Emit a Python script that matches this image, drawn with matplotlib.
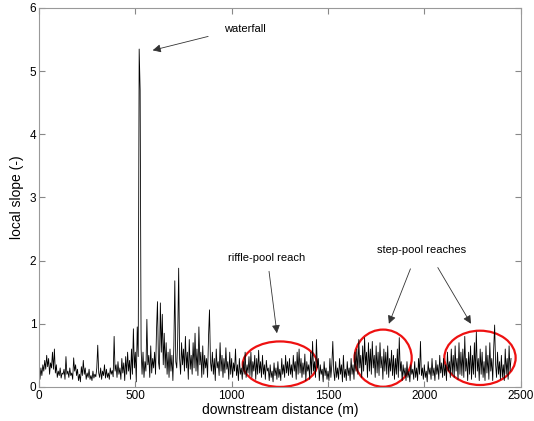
import numpy as np
import matplotlib
matplotlib.use("Agg")
import matplotlib.pyplot as plt
from matplotlib.patches import Ellipse

plt.rcParams['font.family'] = ['Liberation Sans', 'DejaVu Sans']

# distance step of 5 m, 0 .. 2450 m
distance = np.arange(0, 2455, 5)
local_slope = [
    0.22,0.12,0.30,0.18,0.35,0.25,0.42,0.28,0.50,0.32,
    0.45,0.20,0.38,0.30,0.55,0.28,0.60,0.22,0.35,0.15,
    0.25,0.18,0.30,0.14,0.22,0.20,0.28,0.12,0.48,0.20,
    0.25,0.15,0.30,0.18,0.22,0.12,0.46,0.25,0.35,0.18,
    0.28,0.10,0.20,0.08,0.32,0.18,0.42,0.20,0.30,0.12,
    0.22,0.15,0.28,0.12,0.18,0.10,0.25,0.14,0.20,0.16,
    0.30,0.66,0.22,0.15,0.30,0.12,0.25,0.18,0.35,0.14,
    0.28,0.15,0.22,0.12,0.30,0.20,0.26,0.16,0.80,0.25,
    0.35,0.15,0.40,0.20,0.30,0.12,0.45,0.22,0.38,0.10,
    0.48,0.20,0.55,0.25,0.42,0.12,0.60,0.20,0.92,0.30,
    0.55,0.08,0.95,0.48,5.35,4.70,0.60,0.20,0.55,0.15,
    0.40,0.25,1.07,0.35,0.50,0.15,0.65,0.22,0.45,0.30,
    0.55,0.20,0.90,1.35,0.40,0.28,1.33,0.55,1.15,0.35,
    0.85,0.30,0.70,0.20,0.55,0.15,0.60,0.25,0.50,0.10,
    0.65,1.68,0.40,0.30,0.75,1.88,0.45,0.20,0.70,0.35,
    0.60,0.25,0.80,0.30,0.55,0.12,0.75,0.28,0.50,0.20,
    0.70,0.30,0.85,0.25,0.60,0.18,0.95,0.35,0.55,0.15,
    0.65,0.20,0.50,0.30,0.45,0.15,0.80,1.22,0.40,0.25,
    0.55,0.20,0.45,0.10,0.60,0.30,0.40,0.18,0.70,0.25,
    0.50,0.15,0.45,0.22,0.62,0.28,0.40,0.12,0.55,0.20,
    0.45,0.15,0.38,0.25,0.60,0.18,0.35,0.10,0.45,0.20,
    0.30,0.12,0.40,0.20,0.55,0.15,0.35,0.22,0.48,0.18,
    0.55,0.15,0.40,0.25,0.50,0.12,0.45,0.20,0.58,0.22,
    0.40,0.15,0.50,0.20,0.35,0.12,0.42,0.25,0.30,0.10,
    0.35,0.15,0.25,0.08,0.38,0.18,0.30,0.12,0.40,0.15,
    0.28,0.10,0.45,0.20,0.35,0.15,0.50,0.22,0.40,0.18,
    0.45,0.20,0.35,0.15,0.50,0.25,0.40,0.12,0.55,0.20,
    0.60,0.22,0.45,0.15,0.38,0.20,0.52,0.10,0.40,0.25,
    0.35,0.12,0.55,0.20,0.72,0.25,0.40,0.15,0.75,0.30,
    0.45,0.10,0.35,0.20,0.28,0.08,0.40,0.18,0.30,0.12,
    0.25,0.10,0.45,0.15,0.35,0.72,0.25,0.10,0.40,0.15,
    0.30,0.12,0.45,0.20,0.35,0.08,0.50,0.15,0.28,0.10,
    0.40,0.18,0.30,0.10,0.45,0.20,0.35,0.12,0.55,0.25,
    0.60,0.20,0.75,0.30,0.50,0.15,0.65,0.25,0.78,0.35,
    0.55,0.15,0.70,0.25,0.60,0.20,0.72,0.30,0.50,0.15,
    0.65,0.22,0.55,0.18,0.70,0.30,0.48,0.12,0.60,0.25,
    0.55,0.20,0.65,0.15,0.45,0.25,0.58,0.18,0.50,0.12,
    0.45,0.20,0.60,0.15,0.78,0.25,0.40,0.10,0.35,0.18,
    0.30,0.10,0.40,0.15,0.25,0.08,0.35,0.20,0.28,0.12,
    0.40,0.15,0.30,0.10,0.45,0.20,0.72,0.18,0.30,0.12,
    0.35,0.15,0.25,0.08,0.40,0.20,0.30,0.12,0.45,0.18,
    0.30,0.10,0.42,0.20,0.35,0.12,0.50,0.22,0.38,0.15,
    0.45,0.18,0.35,0.10,0.55,0.25,0.40,0.15,0.60,0.20,
    0.50,0.15,0.65,0.25,0.45,0.12,0.70,0.20,0.55,0.18,
    0.60,0.15,0.80,0.25,0.45,0.10,0.55,0.20,0.65,0.12,
    0.50,0.20,0.70,0.15,0.87,0.25,0.45,0.10,0.60,0.20,
    0.55,0.15,0.40,0.10,0.65,0.22,0.50,0.12,0.70,0.25,
    0.45,0.10,0.60,0.98,0.35,0.15,0.55,0.20,0.40,0.12,
    0.50,0.15,0.35,0.10,0.60,0.20,0.45,0.12,0.65,0.25,
    0.45,
]

x_ticks = [0, 500, 1000, 1500, 2000, 2500]
y_ticks = [0, 1, 2, 3, 4, 5, 6]

# annotations: (text, text_xy, [(tail_xy, head_xy), ...])
labels = [
    ("waterfall", (1068, 5.66), [((878, 5.55), (590, 5.33))]),
    ("riffle-pool reach", (1182, 2.04), [((1194, 1.83), (1235, 0.85))]),
    ("step-pool reaches", (1985, 2.17), [((1928, 1.87), (1816, 1.0)),
                                         ((2070, 1.89), (2242, 1.0))]),
]
# ellipses: center x, center y, width, height
ellipses = [
    (1251, 0.36, 387, 0.72),
    (1786, 0.455, 297, 0.905),
    (2289, 0.46, 370, 0.86),
]

fig = plt.figure(figsize=(5.34, 4.21), dpi=100)
ax = fig.add_axes([0.073, 0.081, 0.902, 0.900])
ax.plot(distance, local_slope[:len(distance)], color='k', lw=0.6)

ax.set_xlim(0, 2500)
ax.set_ylim(0, 6)
ax.set_xticks(x_ticks)
ax.set_yticks(y_ticks)
ax.tick_params(direction='in', top=True, right=True, length=4,
               labelsize=8.5, color='#888888', pad=2)
for s in ax.spines.values():
    s.set_color('#999999')
    s.set_linewidth(0.8)
ax.set_xlabel('downstream distance (m)', fontsize=10, labelpad=1)
ax.set_ylabel('local slope (-)', fontsize=10, labelpad=4)

for text, txy, arrows in labels:
    ax.text(txy[0], txy[1], text, fontsize=8, ha='center', va='center')
    for tail, head in arrows:
        ax.annotate('', xy=head, xytext=tail,
                    arrowprops=dict(arrowstyle='-|>', color='#333333',
                                    lw=0.6, mutation_scale=12,
                                    shrinkA=0, shrinkB=0))

for cx, cy, w, h in ellipses:
    ax.add_patch(Ellipse((cx, cy), w, h, fill=False, edgecolor='#ee1111', lw=1.6))

fig.savefig('out.png', dpi=100)
